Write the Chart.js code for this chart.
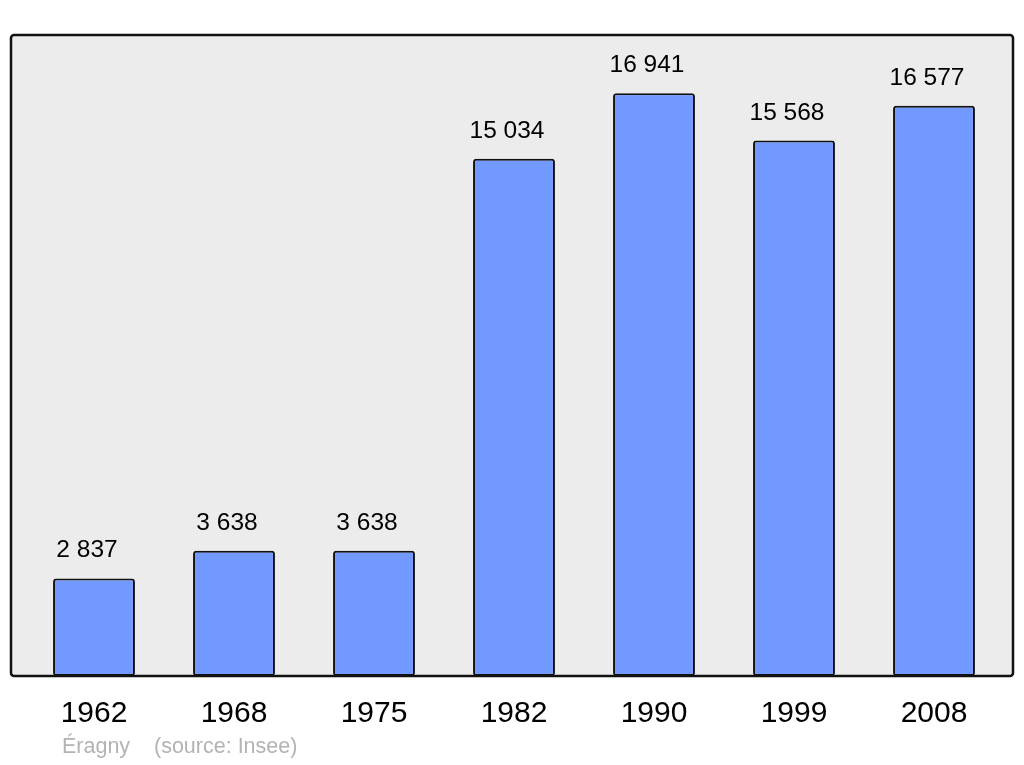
<!DOCTYPE html>
<html>
<head>
<meta charset="utf-8">
<script src="https://cdn.jsdelivr.net/npm/chart.js@4"></script>
<style>
  html, body { margin: 0; padding: 0; background: #fff; }
  #wrap { width: 1024px; height: 765px; }
</style>
</head>
<body>
<div id="wrap"><canvas id="chart" width="1024" height="765"></canvas></div>
<script>
const years = ["1962", "1968", "1975", "1982", "1990", "1999", "2008"];
const population = [2837, 3638, 3638, 15034, 16941, 15568, 16577];
const townName = "Éragny";
const sourceText = "(source: Insee)";

const FONT = "'Liberation Sans', Arial, sans-serif";

function fmt(n) {
  return String(n).replace(/\B(?=(\d{3})+(?!\d))/g, " ");
}

// grey panel behind the bars, outline drawn on top
const panelPlugin = {
  id: "panel",
  beforeDatasetsDraw(chart) {
    const { ctx, chartArea: a } = chart;
    ctx.save();
    ctx.beginPath();
    ctx.roundRect(a.left - 13, a.top, a.right - a.left + 22, a.bottom - a.top, 3);
    ctx.fillStyle = "#ececec";
    ctx.fill();
    ctx.restore();
  },
  afterDatasetsDraw(chart) {
    const { ctx, chartArea: a } = chart;
    ctx.save();
    ctx.beginPath();
    ctx.roundRect(a.left - 13, a.top, a.right - a.left + 22, a.bottom - a.top, 3);
    ctx.lineWidth = 2.5;
    ctx.strokeStyle = "#111";
    ctx.stroke();

    // value labels
    ctx.fillStyle = "#000";
    ctx.font = "24.5px " + FONT;
    ctx.textAlign = "center";
    ctx.textBaseline = "alphabetic";
    chart.getDatasetMeta(0).data.forEach((bar, i) => {
      ctx.fillText(fmt(population[i]), bar.x - 7, bar.y - 21);
    });

    // footer
    ctx.fillStyle = "#b3b3b3";
    ctx.font = "21.5px " + FONT;
    ctx.textAlign = "left";
    ctx.textBaseline = "middle";
    ctx.fillText(townName, 62, 747);
    ctx.fillText(sourceText, 154, 747);
    ctx.restore();
  },
};

new Chart(document.getElementById("chart"), {
  type: "bar",
  data: {
    labels: years,
    datasets: [
      {
        data: population,
        backgroundColor: "#7299ff",
        borderColor: "#111",
        borderWidth: 2,
        borderRadius: 3,
        borderSkipped: false,
        barPercentage: 0.585,
        categoryPercentage: 1,
      },
    ],
  },
  options: {
    responsive: false,
    animation: false,
    devicePixelRatio: 1,
    layout: { padding: { left: 24, right: 20, top: 35, bottom: 0 } },
    plugins: { legend: { display: false }, tooltip: { enabled: false } },
    scales: {
      x: {
        grid: { display: false, drawTicks: false },
        border: { display: false },
        ticks: { color: "#000", font: { size: 30, family: FONT }, padding: 20 },
        afterFit(scale) { scale.height = 89; },
      },
      y: {
        display: false,
        min: 0,
        max: Math.max(...population) * 1.1,
      },
    },
  },
  plugins: [panelPlugin],
});
</script>
</body>
</html>
